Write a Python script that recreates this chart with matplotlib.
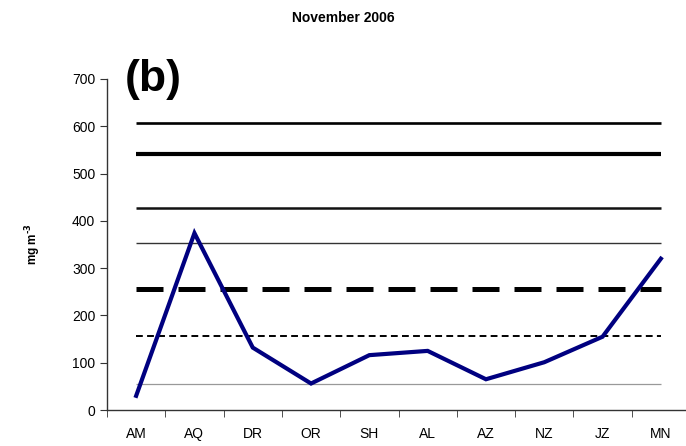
import matplotlib
matplotlib.use("Agg")
import matplotlib.pyplot as plt
import numpy as np

plt.rcParams['font.family'] = ['Liberation Sans', 'DejaVu Sans']

# 站点与浓度 (mg m-3)
sites = ['AM', 'AQ', 'DR', 'OR', 'SH', 'AL', 'AZ', 'NZ', 'JZ', 'MN']
conc = [30, 374, 132, 56, 116, 125, 65, 101, 155, 320]

# 参考水平线
ref_levels = [606, 541, 427, 354, 256, 156, 56]

fig = plt.figure(figsize=(6.86, 4.46), dpi=100)
ax = fig.add_axes([107 / 686, 1 - 410 / 446, 583 / 686, (410 - 79) / 446])

x = np.arange(len(sites))
x_ends = [x[0], x[-1]]

# 水平参考线样式
styles = [
    dict(color='black', lw=1.9),
    dict(color='black', lw=3.0),
    dict(color='#111111', lw=1.8),
    dict(color='#333333', lw=1.0),
    dict(color='black', lw=3.6, dashes=(5.4, 3.0)),
    dict(color='black', lw=1.4, dashes=(3.5, 2.2)),
    dict(color='#999999', lw=0.9),
]
for lvl, st in zip(ref_levels, styles):
    ax.plot(x_ends, [lvl, lvl], solid_capstyle='butt', dash_capstyle='butt', **st)

ax.plot(x, conc, color='#000080', lw=3.0, solid_joinstyle='miter', zorder=5)

ax.set_xlim(-0.5, len(sites) - 0.5)
ax.set_ylim(0, 700)
ax.set_yticks(np.arange(0, 701, 100))
ax.set_xticks(x)
ax.set_xticklabels(sites)
ax.set_xticks(np.arange(-0.5, len(sites), 1.0), minor=True)
ax.tick_params(axis='x', which='major', length=0, pad=12, labelsize=10)
ax.tick_params(axis='x', which='minor', length=5, direction='out', color='#333333')
ax.tick_params(axis='y', length=5, direction='out', labelsize=10, color='#333333')

for s in ['top', 'right']:
    ax.spines[s].set_visible(False)
for s in ['left', 'bottom']:
    ax.spines[s].set_color('#333333')
    ax.spines[s].set_linewidth(1.0)

ax.set_ylabel('mg m$^{\\mathbf{\u2010}\\mathbf{3}}$', fontsize=8.5, fontweight='bold', labelpad=21)
fig.text(0.5, 1 - 18 / 446, 'November 2006', ha='center', va='center',
         fontsize=10, fontweight='bold')
ax.text(0.03, 1.0, '(b)', transform=ax.transAxes, ha='left', va='center',
        fontsize=32, fontweight='bold')

fig.savefig('out.png', dpi=100)
